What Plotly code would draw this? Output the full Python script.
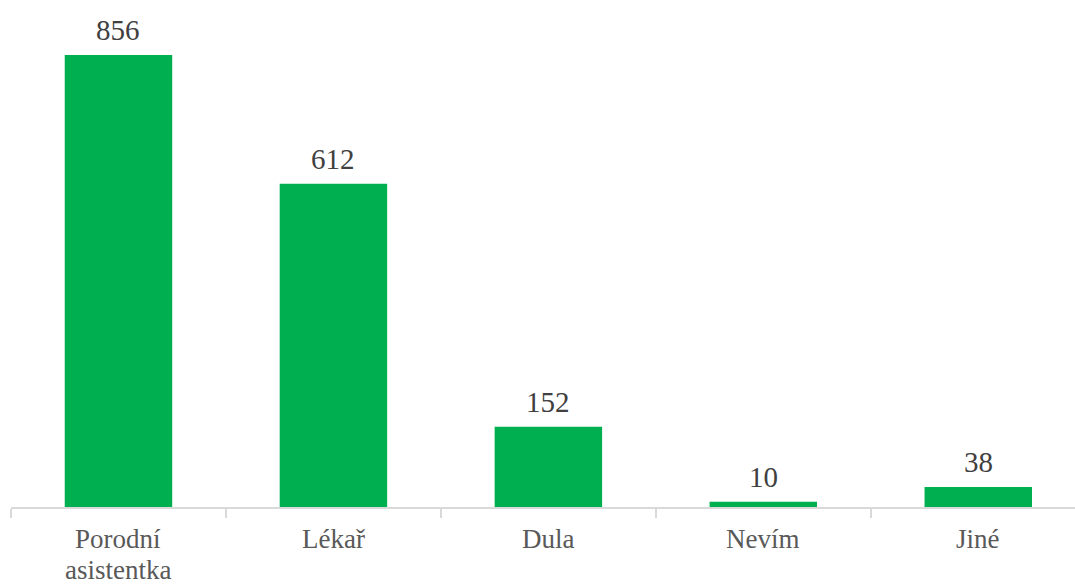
import plotly.graph_objects as go

categories = ["Porodní asistentka", "Lékař", "Dula", "Nevím", "Jiné"]
label_lines = [["Porodní", "asistentka"], ["Lékař"], ["Dula"], ["Nevím"], ["Jiné"]]
values = [856, 612, 152, 10, 38]

SERIF = "Liberation Serif, Times New Roman, serif"

fig = go.Figure(go.Bar(
    x=categories, y=values, width=0.5,
    marker=dict(color="#00B050", line=dict(width=0)),
    cliponaxis=False,
))
for c, v in zip(categories, values):
    fig.add_annotation(x=c, y=v, text=str(v), showarrow=False, yanchor="middle",
                       yshift=25, font=dict(family=SERIF, size=29, color="#404040"))
for c, lines in zip(categories, label_lines):
    for i, line in enumerate(lines):
        fig.add_annotation(x=c, xref="x", y=0, yref="paper", text=line, showarrow=False,
                           yanchor="middle", yshift=-(32 + 31 * i),
                           font=dict(family=SERIF, size=27, color="#595959"))
fig.update_layout(
    width=1075, height=586, margin=dict(l=11, r=0, t=0, b=79),
    plot_bgcolor="white", paper_bgcolor="white", showlegend=False,
    font=dict(family=SERIF, size=27, color="#595959"),
)
fig.update_xaxes(range=[-0.5, 4.45], showline=True, linecolor="#d9d9d9", linewidth=2,
                 ticks="outside", tickson="boundaries", ticklen=9, tickcolor="#d9d9d9",
                 tickwidth=2, showgrid=False, showticklabels=False, automargin=False)
fig.update_yaxes(range=[0, 960], visible=False, showgrid=False)
fig.write_html("out.html")
